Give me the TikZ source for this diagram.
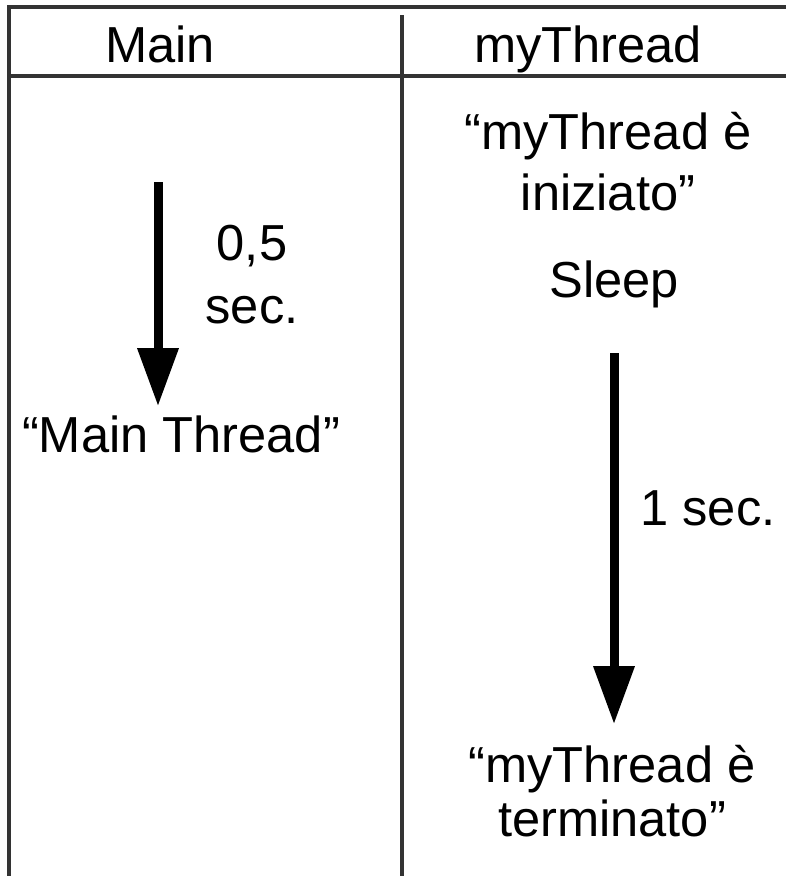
\documentclass[tikz,border=0pt]{standalone}
\usepackage{fontspec}
\setmainfont{Liberation Sans}
\usetikzlibrary{arrows.meta, positioning}

\begin{document}
\begin{tikzpicture}[
    x=0.025cm, y=-0.025cm,
    frame/.style={draw=black!80, line width=2.2pt},
    head/.style={font=\fontsize{36}{43}\selectfont, anchor=base, inner sep=2pt},
    msg/.style={font=\fontsize{36}{42.7}\selectfont, align=center, anchor=base, inner sep=2pt},
    lbl/.style={font=\fontsize{36}{44.8}\selectfont, align=center, anchor=base, inner sep=2pt},
    timearr/.style={-{Triangle[length=1.45cm, width=0.98cm]}, line width=6.4pt, black}
]
    \useasboundingbox (0,0) rectangle (786,876);

    % === table frame ===
    \draw[frame] (786,7) -- (9,7) -- (9,876);
    \draw[frame] (9,76) -- (786,76);
    \draw[frame] (402,15) -- (402,876);

    % === headers ===
    \node[head] (hmain)   at (160,62) {Main};
    \node[head] (hthread) at (588,62) {myThread};

    % === column 1: Main ===
    \coordinate (mainstart) at (158,182);
    \node[lbl] (mainwait) at (252,323) {0,5\\sec.};
    \node[msg] (mainmsg)  at (181,452) {“Main Thread”};

    % === column 2: myThread ===
    \node[msg]  (startmsg)  at (608,210) {“myThread è\\iniziato”};
    \node[head] (sleep)     at (614,297) {Sleep};
    \coordinate (sleepstart) at (614,353);
    \node[lbl]  (sleepwait) at (708,525) {1 sec.};
    \node[msg, font=\fontsize{36}{38}\selectfont] (endmsg) at (612,836) {“myThread è\\terminato”};

    % --- time arrows ---
    \draw[timearr, shorten >=0.15cm] (mainstart) -- (mainstart |- mainmsg.north);
    \draw[timearr, shorten >=0.45cm] (sleepstart) -- (sleepstart |- endmsg.north);
\end{tikzpicture}
\end{document}
